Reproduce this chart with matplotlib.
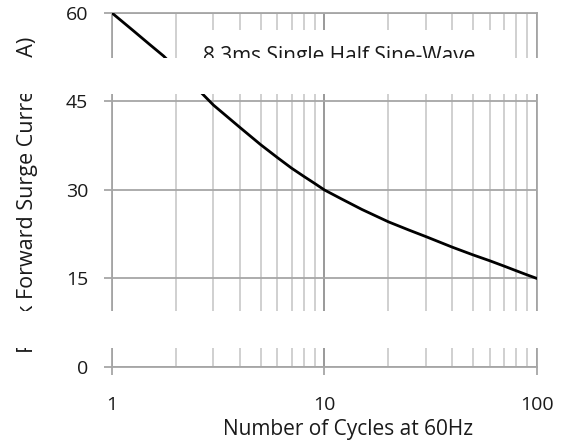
import matplotlib
matplotlib.use('Agg')
import matplotlib.pyplot as plt
from matplotlib.patches import Rectangle
from matplotlib.ticker import FixedLocator, NullFormatter

plt.rcParams['font.family'] = ['Open Sans', 'DejaVu Sans']

# surge current vs number of cycles
cycles = [1, 1.25, 1.5, 1.75, 2, 2.5, 3, 4, 5, 6, 7, 8, 9, 10,
          12, 15, 20, 25, 30, 40, 50, 60, 70, 80, 90, 100]
current = [60, 57.1, 54.7, 52.7, 50.6, 47.3, 44.4, 40.6, 37.7, 35.5, 33.7, 32.3, 31.1, 30,
           28.5, 26.7, 24.6, 23.2, 22.1, 20.3, 19.0, 18, 17.1, 16.3, 15.6, 15]

y_ticks = [0, 15, 30, 45, 60]
x_ticks = [1, 10, 100]
x_tick_labels = ['1', '10', '100']
x_minor = [2, 3, 4, 5, 6, 7, 8, 9, 20, 30, 40, 50, 60, 70, 80, 90]

note = '8.3ms Single Half Sine-Wave'
x_title = 'Number of Cycles at 60Hz'
y_title = 'Peak Forward Surge Current (A)'

grid_c = '#a6a6a6'
minor_c = '#c8c8c8'
text_c = '#1a1a1a'

fig = plt.figure(figsize=(5.65, 4.43), dpi=100)
ax = fig.add_axes([0.1982, 0.1716, 0.7522, 0.7991])

ax.set_xscale('log')
ax.set_xlim(1, 100)
ax.set_ylim(0, 60)
ax.set_axisbelow(True)

ax.xaxis.set_major_locator(FixedLocator(x_ticks))
ax.set_xticklabels(x_tick_labels)
ax.xaxis.set_minor_locator(FixedLocator(x_minor))
ax.xaxis.set_minor_formatter(NullFormatter())
ax.set_yticks(y_ticks)

ax.grid(True, which='major', axis='x', color='#999999', linewidth=1.4)
ax.grid(True, which='minor', axis='x', color=minor_c, linewidth=1.2)
ax.grid(True, which='major', axis='y', color=grid_c, linewidth=1.3)

for s in ax.spines.values():
    s.set_color(grid_c)
    s.set_linewidth(1.3)

ax.tick_params(axis='both', which='major', direction='out', length=6,
               width=1.3, color=grid_c, labelsize=14, labelcolor=text_c)
ax.tick_params(axis='x', which='major', pad=15)
ax.tick_params(axis='y', which='major', pad=11)
ax.tick_params(axis='x', which='minor', length=0)

ax.plot(cycles, current, color='black', linewidth=2, zorder=3,
        solid_joinstyle='round', solid_capstyle='round')

# white box behind the note
ax.add_patch(Rectangle((0.184, 0.78), 0.755, 0.172, transform=ax.transAxes,
                       facecolor='white', edgecolor='none', zorder=1.8))
ax.text(0.214, 0.8616, note, transform=ax.transAxes, fontsize=15,
        color=text_c, va='baseline', ha='left', zorder=4)

fig.text(348 / 565, 0.018, x_title, fontsize=15, color=text_c,
         ha='center', va='baseline')
fig.text(33 / 565, 0.559, y_title, fontsize=15.5, color=text_c,
         rotation=90, rotation_mode='anchor', ha='center', va='baseline')

# white bands cut across the whole picture
for y0, y1 in [(0.7878, 0.8691), (0.2144, 0.2980)]:
    fig.patches.append(Rectangle((0, y0), 1, y1 - y0, transform=fig.transFigure,
                                 facecolor='white', edgecolor='none', zorder=10))

fig.savefig('out.png', dpi=100)
